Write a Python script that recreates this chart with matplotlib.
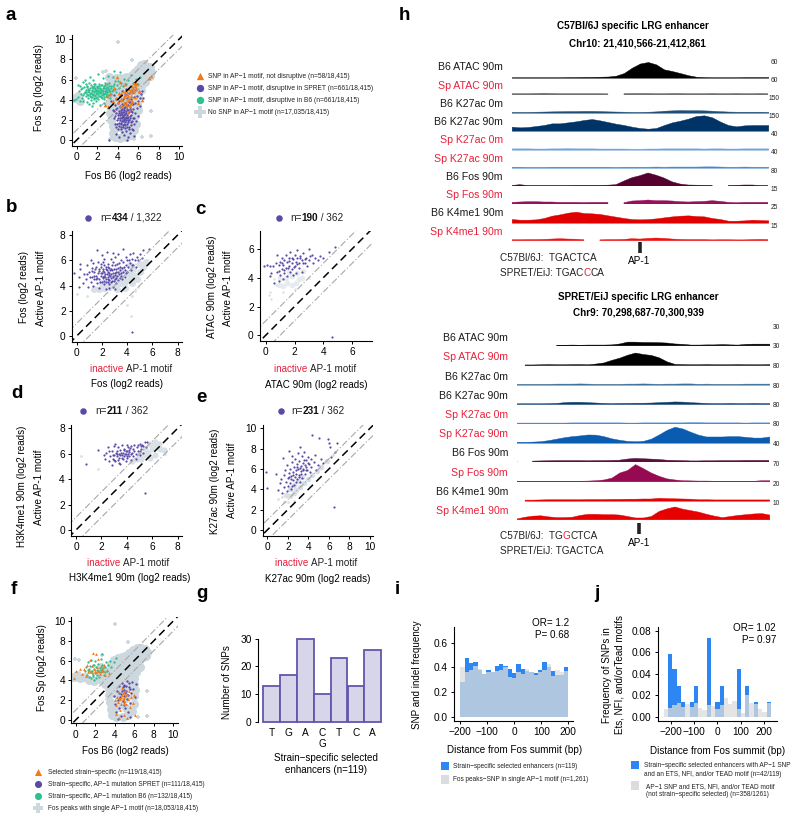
import numpy as np
import matplotlib
matplotlib.use("Agg")
import matplotlib.pyplot as plt

plt.rcParams['font.family'] = ['Liberation Sans', 'DejaVu Sans']

W, H = 800, 819
PURPLE = '#5a4aa8'
GREEN = '#2fc08f'
ORANGE = '#f07a1a'
GREY = '#cdd7de'
LGREY = '#d9e1e7'
RED = '#e8203a'
BLUE = '#2e86f2'
BARGREY = '#dcdcdc'

##### panel a points
a_grey = [(-0.2,4.2),(0.1,4.4),(0.3,3.9),(3.2,6.3),(3.6,5.9),(3.8,6.2),(4.2,6.2),
          (4.5,6.0),(4.8,6.3),(5.1,6.2),(5.4,6.5),(5.7,6.8),(6.0,7.1),(6.3,7.4),(6.6,7.5),(6.9,7.2),(7.2,7.2),
          (7.3,6.8),(7.2,6.4),(7.0,6.6),(6.6,6.2),(6.4,5.6),(6.1,6.0),(5.8,5.4),(5.4,5.0),(5.0,4.6),(4.6,4.2),
          (4.2,3.8),(3.8,3.5),(3.5,3.3),(3.2,3.7),(3.6,4.2),(4.0,4.7),(4.4,5.2),(4.8,5.5),(5.2,5.8),(5.6,6.1),
          (6.2,6.6),(6.8,7.0),(3.0,5.2),(3.3,5.6),(3.7,5.2),(6.7,5.8),(6.3,5.0),(6.0,4.4),(5.9,3.6),(6.0,3.0),
          (5.7,2.4),(5.8,1.6),(5.6,1.0),(5.3,0.5),(4.8,0.3),(4.2,0.2),(3.7,0.3),(3.5,0.7),(3.5,1.4),(3.4,2.0),
          (3.3,2.7),(3.7,2.9),(4.0,1.3),(4.6,0.9),(5.2,1.8),(5.6,3.2),(4.5,3.3),(5.0,3.8),(3.3,4.5),(4.2,5.6),
          (5.0,5.2),(5.8,5.9),(4.4,2.2),(5.0,1.2),(4.2,3.0),(5.4,4.0),(3.6,4.9),(4.6,4.8),(5.5,5.5),(6.4,6.1)]
a_grey_out = [(4.0,9.7),(5.4,7.9),(-0.1,6.2),(7.3,2.9),(7.3,0.4),(2.9,6.9),(2.6,6.8),(6.4,0.3),(3.3,0.1),(5.6,0.1)]
a_green = [(-0.3,4.0),(-0.1,4.1),(0.1,4.3),(0.2,4.9),(0.3,5.4),(0.1,5.5),(0.4,4.6),(0.4,5.1),(0.5,4.2),(0.6,3.9),
           (0.7,4.7),(0.7,5.3),(0.8,6.0),(0.9,4.4),(0.9,5.0),(1.0,3.8),(1.0,4.6),(1.0,5.4),(1.1,4.2),(1.1,5.1),
           (1.2,3.6),(1.2,4.8),(1.2,5.7),(1.3,4.4),(1.3,5.2),(1.4,4.0),(1.4,4.7),(1.4,5.5),(1.5,4.3),(1.5,5.0),
           (1.6,3.7),(1.6,4.6),(1.6,5.3),(1.6,6.0),(1.7,4.2),(1.7,4.9),(1.8,4.5),(1.8,5.1),(1.8,5.6),(1.9,3.9),
           (1.9,4.7),(2.0,4.3),(2.0,5.0),(2.0,5.4),(2.1,4.6),(2.1,4.1),(2.1,6.6),(2.2,4.9),(2.2,5.6),(2.3,3.5),
           (2.3,4.4),(2.3,5.2),(2.4,4.7),(2.4,5.0),(2.5,4.2),(2.5,5.5),(2.6,4.5),(2.6,4.9),(2.6,6.2),(2.7,5.2),
           (2.7,4.1),(2.8,4.7),(2.8,5.7),(2.9,5.0),(2.9,4.4),(3.0,5.3),(3.0,4.8),(3.1,4.5),(3.1,6.4),(3.2,5.1),
           (3.2,5.7),(3.3,4.9),(3.4,5.4),(3.4,4.6),(3.5,5.0),(3.6,5.6),(3.6,6.9),(3.7,5.1),(3.8,4.8),(3.9,5.5),
           (4.0,5.9),(4.1,5.2),(4.3,5.7),(4.5,5.4),(4.6,6.1),(4.8,5.6),(5.0,6.0),(5.3,6.5),(5.5,5.7),(5.8,6.1),
           (6.0,5.6),(0.3,3.9),(0.6,5.8),(1.3,6.3),(1.5,3.4),(2.7,3.7),(3.3,4.2),(3.5,6.3),(4.2,6.8),(6.2,6.3),
           (0.95,4.75),(1.05,5.25),(1.15,4.45),(1.25,5.0),(1.35,4.25),(1.45,4.85),(1.45,5.25),(1.55,4.5),(1.55,5.15),(1.65,4.05),
           (1.65,4.75),(1.65,5.55),(1.75,4.35),(1.75,5.2),(1.85,4.85),(1.85,4.15),(1.95,5.3),(1.95,4.55),(2.05,4.75),(2.05,5.15),
           (2.15,4.35),(2.15,5.35),(2.25,4.65),(2.25,5.05),(2.35,4.25),(2.35,5.45),(2.45,4.85),(2.45,4.45),(2.55,5.15),(2.55,4.65),
           (2.65,5.35),(2.65,4.25),(2.75,4.85),(2.75,5.45),(2.85,4.55),(2.85,5.15),(2.95,4.75),(2.95,5.55),(3.05,5.05),(3.15,4.85),
           (3.15,5.35),(3.25,4.55),(3.35,5.15),(3.45,4.85),(3.55,5.35),(1.1,4.9),(1.3,4.6),(1.5,4.6),(1.7,5.4),(1.9,5.0),
           (2.1,4.9),(2.3,4.8),(2.5,5.0),(2.7,4.6),(2.9,4.9),(0.6,4.5),(0.8,4.8),(0.5,5.2),(0.9,5.6),(3.7,5.9)]
a_purple = [(3.4,3.9),(3.5,3.0),(3.6,2.2),(3.7,3.5),(3.7,1.6),(3.8,2.7),(3.8,4.1),(3.8,0.6),(3.9,2.0),(3.9,3.2),
            (4.0,1.1),(4.0,2.5),(4.0,3.7),(4.1,1.7),(4.1,2.9),(4.1,0.3),(4.2,2.2),(4.2,3.4),(4.2,4.4),(4.3,1.3),
            (4.3,2.6),(4.3,3.0),(4.4,0.8),(4.4,1.9),(4.4,2.3),(4.4,3.6),(4.5,1.5),(4.5,2.8),(4.5,4.1),(4.6,0.5),
            (4.6,2.1),(4.6,3.2),(4.6,2.5),(4.7,1.2),(4.7,1.8),(4.7,3.7),(4.7,4.6),(4.8,2.3),(4.8,2.9),(4.8,0.9),
            (4.9,1.6),(4.9,3.4),(4.9,4.2),(5.0,0.3),(5.0,2.0),(5.0,2.7),(5.0,3.0),(5.1,1.3),(5.1,3.8),(5.1,4.7),
            (5.2,2.4),(5.2,3.3),(5.2,0.7),(5.3,1.8),(5.3,4.1),(5.3,2.9),(5.4,1.1),(5.4,3.6),(5.4,4.9),(5.5,2.2),
            (5.5,3.1),(5.6,0.4),(5.6,1.6),(5.6,4.3),(5.7,2.7),(5.7,3.7),(5.8,5.0),(5.8,1.9),(5.9,3.2),(5.9,4.4),
            (6.0,2.4),(6.0,3.9),(6.1,4.8),(6.2,3.4),(6.2,4.2),(6.3,4.6),(6.4,4.9),(6.5,4.2),(3.2,0.0),(4.9,0.0),
            (4.4,4.9),(4.8,5.1),(5.3,5.4),(5.7,5.6),(3.6,4.5),(4.1,3.9),(4.6,2.0),(4.3,1.6),(4.9,2.2),(4.5,2.4),
            (3.95,1.55),(4.05,2.15),(4.15,2.65),(4.15,1.35),(4.25,1.95),(4.25,2.45),(4.25,3.25),(4.35,1.05),(4.35,2.75),(4.35,1.65),
            (4.45,2.15),(4.45,2.55),(4.45,3.05),(4.55,1.85),(4.55,2.25),(4.55,1.25),(4.55,3.45),(4.65,2.75),(4.65,1.55),(4.65,2.95),
            (4.75,2.15),(4.75,2.55),(4.75,1.45),(4.75,3.25),(4.85,1.95),(4.85,2.65),(4.85,3.55),(4.95,1.25),(4.95,2.45),(4.95,3.05),
            (5.05,1.75),(5.05,2.25),(5.05,3.45),(5.15,2.75),(5.15,1.05),(5.15,1.95),(5.25,2.15),(5.25,3.05),(5.25,3.75),(5.35,2.45),
            (5.35,1.45),(5.45,2.75),(5.45,1.85),(5.55,3.55),(5.55,0.95),(5.65,2.15),(3.75,2.35),(3.85,3.05),(3.65,2.85),(3.85,1.25)]
a_orange = [(2.8,3.5),(3.0,4.4),(3.1,3.3),(3.3,4.6),(3.5,3.9),(3.6,5.2),(3.8,4.2),(3.9,6.3),(4.0,3.8),(4.1,4.7),
            (4.2,5.8),(4.3,4.1),(4.4,3.4),(4.5,4.9),(4.6,4.3),(4.7,5.6),(4.8,3.7),(4.9,4.6),(5.0,4.0),(5.0,2.8),
            (5.1,5.1),(5.2,3.4),(5.3,4.4),(5.4,5.4),(5.4,3.9),(5.5,4.8),(5.6,5.7),(5.7,4.3),(5.8,5.2),(5.9,5.6),
            (6.0,3.7),(6.1,4.9),(6.4,4.0),(7.1,6.2),(7.3,6.4),(4.4,4.0),(4.7,4.5),(5.0,4.4),(5.2,4.8),(5.5,5.2),
            (5.7,5.4),(4.9,3.5),(5.3,3.7),(4.6,3.7),(5.6,4.9),(5.1,4.2),(4.3,4.6),(4.8,4.9),(5.8,5.7),(5.3,5.0)]

##### panel b points
b_grey = [(1.4,3.7),(1.8,3.7),(2.2,3.8),(2.6,3.9),(3.0,4.0),(3.4,4.2),(3.8,4.3),(4.2,4.5),(4.6,4.8),(5.0,5.1),
          (5.3,5.5),(5.5,5.9),(3.0,4.5),(3.5,4.7),(4.0,5.0),(4.5,5.3),(5.0,5.7),(2.6,4.2),(3.2,3.7),(3.8,3.8),
          (4.4,4.2),(4.8,4.5),(3.6,5.2),(4.2,5.6),(2.0,4.2),(3.3,4.9),(4.3,4.9)]
b_grey_out = [(0.0,3.3),(0.8,3.2),(4.3,1.6),(4.0,2.5),(4.6,3.6),(4.9,3.9),(4.4,3.2)]
b_purple = [(-0.2,5.0),(0.2,3.9),(0.2,4.7),(0.3,5.3),(0.3,5.7),(0.5,4.2),(0.6,4.9),(0.7,4.5),(0.8,5.6),(0.9,3.9),
            (1.0,5.1),(1.1,4.3),(1.1,6.0),(1.2,4.7),(1.2,5.4),(1.3,4.0),(1.3,5.8),(1.4,4.5),(1.4,5.1),(1.5,4.8),
            (1.5,5.5),(1.6,4.2),(1.6,6.8),(1.7,5.0),(1.7,5.9),(1.8,3.8),(1.8,4.5),(1.8,5.3),(1.9,4.8),(1.9,5.7),
            (2.0,4.3),(2.0,5.0),(2.0,6.4),(2.1,4.6),(2.1,5.3),(2.1,5.9),(2.2,4.1),(2.2,4.8),(2.2,5.1),(2.3,4.5),
            (2.3,5.5),(2.3,3.7),(2.4,4.9),(2.4,5.2),(2.4,6.7),(2.5,4.3),(2.5,4.7),(2.5,5.7),(2.6,5.0),(2.6,4.1),
            (2.6,5.4),(2.7,4.6),(2.7,4.9),(2.7,6.1),(2.8,5.2),(2.8,4.4),(2.8,5.6),(2.9,4.8),(2.9,3.9),(2.9,5.9),
            (3.0,5.0),(3.0,4.5),(3.0,6.3),(3.1,5.3),(3.1,4.2),(3.2,4.8),(3.2,5.7),(3.3,5.1),(3.3,6.5),(3.4,4.6),
            (3.4,5.5),(3.5,5.0),(3.5,6.0),(3.6,4.5),(3.6,5.4),(3.7,5.9),(3.7,6.9),(3.8,5.2),(3.8,4.7),(3.9,5.6),
            (3.9,6.3),(4.0,5.1),(4.0,6.0),(4.1,5.5),(4.2,6.5),(4.2,5.8),(4.3,5.2),(4.4,6.1),(4.5,6.6),(4.5,5.6),
            (4.6,6.0),(4.7,5.5),(4.8,6.3),(4.9,6.0),(5.0,6.5),(5.2,6.2),(5.3,6.8),(5.7,6.9),(4.4,0.3),(1.9,5.0),
            (1.65,4.6),(1.75,5.15),(1.85,4.25),(1.95,5.45),(2.05,4.7),(2.05,5.15),(2.15,4.4),(2.15,5.6),(2.25,4.95),(2.25,4.65),
            (2.35,5.35),(2.35,4.25),(2.45,4.55),(2.45,5.05),(2.45,5.45),(2.55,4.85),(2.55,4.45),(2.65,5.2),(2.65,4.75),(2.75,5.35),
            (2.75,4.25),(2.85,5.0),(2.85,4.65),(2.95,5.35),(2.95,4.35),(3.05,4.85),(3.05,5.6),(3.15,5.1),(3.15,4.6),(3.25,5.4),
            (3.25,4.45),(3.35,5.8),(3.35,4.9),(3.45,5.2),(3.55,4.75),(3.65,5.1),(1.35,4.75),(1.45,5.35),(1.55,4.55),(1.25,5.15),
            (1.05,4.65),(0.85,4.9),(2.6,3.8),(3.0,3.7),(3.75,5.45),(3.95,5.0),(4.15,6.0),(4.35,5.6),(2.2,6.1),(2.9,6.6)]

##### panel c points
c_grey = [(0.9,3.5),(1.2,3.4),(1.5,3.6),(1.8,3.5),(2.1,3.6),(2.3,3.9),(1.0,4.0),(1.4,4.0),(1.8,4.1),(2.2,4.3),
          (2.6,4.5),(1.6,4.4),(2.5,4.0)]
c_grey_out = [(0.3,3.0),(0.2,2.8),(0.6,3.9),(0.7,3.5),(0.4,2.5),(3.0,4.0),(1.2,3.0),(2.0,3.2)]
c_purple = [(-0.1,4.8),(0.1,4.9),(0.3,4.8),(0.3,4.1),(0.4,4.3),(0.5,4.8),(0.6,3.6),(0.7,5.0),(0.8,4.4),(0.8,5.6),
            (0.9,3.8),(0.9,4.9),(1.0,4.2),(1.0,5.1),(1.1,5.4),(1.1,4.6),(1.2,3.9),(1.2,4.9),(1.3,5.2),(1.3,4.3),
            (1.4,4.7),(1.4,5.6),(1.5,5.1),(1.5,4.1),(1.6,4.8),(1.6,5.4),(1.7,4.4),(1.7,5.8),(1.8,5.0),(1.8,4.6),
            (1.9,5.3),(1.9,4.2),(2.0,5.6),(2.0,4.8),(2.1,5.1),(2.1,4.3),(2.2,5.9),(2.2,5.4),(2.3,4.7),(2.3,5.0),
            (2.4,5.5),(2.5,5.2),(2.5,4.4),(2.6,5.7),(2.7,5.0),(2.8,5.4),(2.9,4.8),(3.0,6.0),(3.0,5.2),(3.1,5.5),
            (3.3,5.0),(3.4,5.4),(3.6,5.2),(3.8,5.5),(4.0,5.4),(4.4,5.8),(4.8,6.1),(4.6,-0.1),(1.15,5.0),(1.25,4.55),
            (1.55,4.65),(1.65,5.15),(1.85,5.35),(1.95,4.75),(2.15,4.95),(2.35,5.35),(2.6,5.0),(2.75,5.3),(3.2,5.6),(0.95,4.45)]

##### panel d points
d_grey = [(4.4,5.4),(4.8,5.6),(5.1,5.6),(5.4,5.9),(5.7,6.1),(6.0,6.4),(6.3,6.6),(6.6,6.4),(6.9,6.3),
          (5.0,6.0),(5.4,6.4),(5.8,6.8),(6.2,6.9),(6.5,6.8),(5.8,5.7),(6.2,5.9)]
d_grey_out = [(0.4,5.8),(1.7,4.8),(7.0,6.0)]
d_purple = [(1.7,6.3),(0.8,5.2),(2.2,5.9),(2.3,5.6),(2.4,6.1),(2.5,6.5),(2.6,5.4),(2.7,5.8),(2.8,6.2),(2.8,5.1),
            (2.9,5.6),(3.0,6.6),(3.0,5.9),(3.1,5.4),(3.2,6.2),(3.2,5.8),(3.3,6.5),(3.3,5.5),(3.4,6.0),(3.4,5.7),
            (3.5,6.3),(3.5,5.2),(3.6,5.9),(3.6,6.7),(3.7,5.6),(3.7,6.1),(3.8,6.4),(3.8,5.8),(3.9,6.0),(3.9,5.4),
            (4.0,6.7),(4.0,6.2),(4.0,5.7),(4.1,6.0),(4.1,6.5),(4.2,5.8),(4.2,6.3),(4.3,5.5),(4.3,6.6),(4.4,6.1),
            (4.5,5.8),(4.5,6.4),(4.6,6.7),(4.7,6.0),(4.7,5.6),(4.8,6.5),(4.9,6.2),(5.0,6.8),(5.0,5.9),(5.1,6.4),
            (5.2,6.7),(5.3,6.1),(5.4,6.9),(5.5,6.5),(5.6,6.9),(5.4,2.9),(3.1,6.8),(2.6,6.2),(3.25,6.0),(3.45,5.9),
            (3.55,6.1),(3.65,5.7),(3.75,6.3),(3.85,5.95),(3.95,6.2),(4.05,5.85),(4.15,6.15),(4.25,6.45),(4.35,5.95),(4.6,6.2),
            (4.85,6.7),(5.0,6.2),(5.1,6.6),(5.3,6.6),(2.9,5.9),(3.0,5.5),(3.35,5.3),(3.15,6.1)]

##### panel e points
e_grey = [(1.8,3.4),(2.2,3.3),(2.6,3.6),(2.8,3.9),(3.2,4.2),(3.6,4.6),(4.0,5.0),(4.4,5.4),
          (2.2,4.0),(2.6,4.4),(3.0,4.8),(3.4,5.2),(4.8,5.8),(5.2,6.2),(5.8,6.8)]
e_grey_out = [(1.0,3.0),(1.4,3.2),(1.6,2.8),(6.4,7.4),(2.0,2.8),(2.6,2.9)]
e_purple = [(-0.1,5.7),(0.0,4.1),(0.8,5.5),(1.0,3.9),(1.2,4.6),(1.3,5.0),(1.4,3.6),(1.5,7.1),(1.6,5.4),(1.6,4.2),
            (1.7,5.9),(1.8,4.7),(1.9,3.8),(1.9,6.4),(2.0,5.1),(2.0,4.3),(2.1,7.8),(2.1,5.6),(2.2,4.6),(2.2,6.0),
            (2.3,5.3),(2.3,4.0),(2.4,6.7),(2.4,7.3),(2.5,4.9),(2.5,5.7),(2.6,4.4),(2.6,6.2),(2.7,5.2),(2.7,7.0),
            (2.8,5.5),(2.8,4.7),(2.9,6.5),(2.9,5.0),(3.0,6.0),(3.0,7.6),(3.1,5.4),(3.1,6.8),(3.2,4.7),(3.2,8.2),
            (3.3,5.8),(3.3,6.3),(3.4,7.3),(3.4,5.1),(3.5,6.6),(3.5,5.9),(3.6,6.9),(3.6,7.7),(3.7,5.5),(3.8,6.2),
            (3.8,6.9),(3.9,5.9),(4.0,7.2),(4.1,6.5),(4.2,5.7),(4.3,7.0),(4.3,6.2),(4.4,9.3),(4.5,6.7),(4.6,7.4),
            (4.7,5.9),(4.9,6.4),(5.0,9.0),(5.2,7.0),(5.4,6.6),(5.9,8.9),(6.0,8.6),(6.1,8.2),(6.2,7.2),(6.6,7.7),
            (6.8,8.6),(6.5,2.3),(2.35,5.0),(2.55,5.4),(2.75,5.9),(2.85,6.2),(3.05,5.2),(3.15,6.1),(3.25,5.5),(3.45,6.0),
            (3.65,6.4),(3.75,5.9),(3.95,6.6),(2.45,4.3),(2.15,5.2)]

##### panel f points
f_grey = [(-0.2,4.3),(0.1,4.5),(0.4,4.2),(0.9,4.3),(1.4,4.0),(1.9,3.9),(2.4,4.1),
          (2.5,4.6),(3.0,4.4),(3.4,4.4),(3.0,5.0),(3.5,5.0),(3.6,5.7),(3.9,6.1),(4.3,6.3),(4.7,6.4),(5.1,6.5),(5.5,6.8),
          (5.9,7.1),(6.3,7.3),(6.7,7.3),(7.1,7.2),(7.3,6.9),(7.2,6.5),(6.9,6.4),(6.5,6.0),(6.1,5.5),(5.7,5.0),
          (5.3,4.6),(4.9,4.2),(4.5,3.8),(4.1,3.4),(3.7,3.1),(3.4,3.1),(3.6,3.5),(4.0,4.0),(4.4,4.5),(4.8,5.0),
          (5.2,5.5),(5.6,6.0),(6.0,6.4),(6.4,6.8),(6.8,7.0),(4.0,5.0),(4.5,5.6),(5.0,6.0),(6.6,5.4),(6.2,4.8),
          (6.0,4.2),(6.0,3.6),(6.1,3.0),(6.0,2.4),(6.0,1.6),(5.8,0.9),(5.4,0.5),(4.8,0.3),(4.1,0.3),(3.7,0.5),
          (3.6,1.1),(3.5,1.8),(3.4,2.5),(4.0,1.2),(4.6,1.6),(5.2,1.2),(4.2,2.6),(5.0,3.0),(5.6,3.4),(4.6,3.4),
          (5.4,4.0),(4.5,4.8),(5.6,5.4),(3.5,4.0),(4.4,2.0),(5.2,2.2),(3.0,3.6),(2.6,5.4)]
f_grey_out = [(4.0,9.7),(5.4,7.9),(-0.1,6.2),(7.3,2.9),(7.3,0.4),(0.3,6.1),(2.7,6.6),(6.4,0.3)]
f_purple = [(3.9,2.4),(4.0,1.6),(4.1,0.8),(4.2,2.9),(4.3,2.0),(4.4,3.4),(4.4,1.2),(4.6,2.6),(4.6,0.4),(4.7,3.7),
            (4.8,1.9),(4.9,3.0),(5.0,2.4),(5.0,3.5),(5.1,1.2),(5.2,2.9),(5.3,3.9),(5.3,2.1),(5.4,0.8),(5.5,3.3),
            (5.6,1.7),(5.7,2.7),(5.8,3.8),(5.9,3.1),(6.1,2.3),(6.2,3.6),(4.3,0.1),(5.6,0.3),(4.9,1.5),(4.5,2.3),
            (4.7,2.9),(4.9,3.4),(5.1,2.7),(5.2,3.4),(5.4,2.5),(5.6,3.1),(5.0,1.8),(4.8,3.3),(5.5,3.7),(4.4,2.7)]
f_green = [(1.0,4.9),(1.1,5.4),(1.2,4.5),(1.3,5.9),(1.3,5.1),(1.4,4.3),(1.5,5.5),(1.5,4.8),(1.6,6.1),(1.7,5.0),
           (1.8,4.4),(1.8,5.6),(1.9,5.2),(2.0,4.7),(2.0,6.0),(2.1,5.4),(2.2,4.5),(2.3,5.7),(2.3,5.0),(2.4,4.3),
           (2.5,5.3),(2.6,4.8),(2.6,6.2),(2.7,5.6),(2.8,5.0),(2.9,4.5),(3.0,5.4),(3.1,5.9),(3.2,5.0),(3.3,5.6),
           (3.5,6.0),(3.6,5.4),(3.9,5.9),(4.1,6.3),(1.9,4.0),(2.7,6.7),(1.4,5.2),(1.7,4.7),(1.9,5.6),(2.2,5.1),
           (2.4,4.8),(2.6,5.1),(2.8,5.3),(1.6,4.2),(2.1,4.2),(3.0,4.8)]
f_orange = [(-0.2,4.2),(0.0,5.0),(0.4,5.2),(0.6,4.6),(0.9,5.2),(1.1,4.4),(1.2,5.6),(1.4,5.1),(1.5,6.1),(1.7,5.5),
            (1.8,4.6),(1.8,6.8),(1.9,5.2),(2.1,6.7),(2.1,4.8),(2.2,5.4),(2.3,6.2),(2.4,5.0),(2.5,4.6),(2.6,5.5),
            (2.8,4.9),(2.9,5.6),(3.0,4.5),(3.2,5.1),(3.4,4.7),(1.6,5.0),(2.0,5.0),(2.3,4.9),(2.7,5.2),(1.3,4.8),
            (4.0,2.0),(4.1,1.5),(4.1,0.6),(4.2,2.3),(4.3,1.8),(4.4,2.8),(4.4,0.2),(4.5,2.1),(4.5,1.0),(4.6,1.6),
            (4.7,2.5),(4.7,3.2),(4.8,2.1),(4.9,2.8),(4.9,0.5),(5.0,1.9),(5.1,2.4),(5.1,3.0),(5.2,1.6),(5.3,2.6),
            (5.4,2.1),(5.5,2.9),(5.6,1.3),(5.7,2.3),(5.9,1.7),(6.1,0.5),(6.0,2.5),(5.3,0.2),(4.6,2.3),(4.8,2.7),
            (5.0,2.2),(5.2,2.5),(4.4,2.2),(4.9,1.6)]

##### bars
g_bases = ['T', 'G', 'A', 'C', 'T', 'C', 'A']
g_snps = [13, 17, 30, 10, 23, 13, 26]

i_selected = [.285,.48,.435,.44,.38,.345,.38,.36,.415,.425,.41,.385,.355,.425,.39,.37,.365,.355,.38,.44,.40,.37,.34,.34,.40]
i_peaks = [.40,.365,.375,.41,.385,.35,.36,.36,.37,.375,.40,.32,.31,.365,.35,.385,.36,.34,.36,.38,.43,.33,.38,.36,.37]
i_centres = [-192,-176,-160,-144,-128,-112,-96,-80,-64,-48,-32,-16,0,16,32,48,64,80,96,112,128,144,160,176,192]
j_selected = [0,.058,.044,.029,.014,0,.014,.029,0,0,.073,0,.014,.029,0,0,0,.044,0,.029,0,.014,0,0,.014]
j_peaks = [.007,.008,.0105,.0125,.009,.0115,.009,.013,.0085,.0065,.0105,.0095,.007,.0105,.017,.012,.015,.0075,.003,.02,.013,.0115,.007,.0045,.0125]
j_centres = [-220.8,-202.4,-184,-165.6,-147.2,-128.8,-110.4,-92,-73.6,-55.2,-36.8,-18.4,0,18.4,36.8,55.2,73.6,92,110.4,128.8,147.2,165.6,184,202.4,220.8]

##### genome tracks, percent of track height, nan = no coverage
n = np.nan
top_names = ['B6 ATAC 90m','Sp ATAC 90m','B6 K27ac 0m','B6 K27ac 90m','Sp K27ac 0m','Sp K27ac 90m','B6 Fos 90m','Sp Fos 90m','B6 K4me1 90m','Sp K4me1 90m']
top_scales = ['60','60','150','150','40','40','80','15','25','15']
top_colors = ['#000000','#555555','#1f4e79','#003366','#6fa3dc','#4a86c8','#560030','#96105e','#e00000','#ee1010']
top_tracks = [
    [3,3,3,3,3,3,3,4,4,5,5,6,7,12,28,60,85,94,80,50,40,28,15,6,4,3,3,3,3,4,4,4,4],
    [6,6,6,7,8,7,6,6,6,6,6,6,5,n,6,7,7,7,6,6,7,7,6,6,6,7,6,6,7,6,6,7,6],
    [5,5,5,6,7,8,9,10,10,11,11,10,8,7,6,5,5,6,8,12,14,16,15,15,14,12,9,7,6,6,6,6,5],
    [24,20,22,28,34,44,44,50,56,64,70,62,52,42,34,24,16,12,16,34,50,60,72,88,92,80,55,34,26,32,34,34,34],
    [8,8,8,7,7,8,8,9,8,8,8,7,7,7,7,6,6,7,7,8,8,8,8,8,7,8,8,7,7,8,8,8,8],
    [6,6,5,5,5,6,6,6,6,6,6,6,6,5,6,6,6,6,7,6,7,7,7,7,8,8,7,6,6,7,6,6,6],
    [3,8,3,3,3,3,3,3,4,4,4,4,5,8,30,50,62,78,65,48,25,12,6,5,4,4,n,3,4,6,6,3,3],
    [10,12,14,14,12,12,10,10,10,9,10,10,10,n,8,18,20,24,20,20,18,14,12,14,16,20,16,10,8,10,10,10,10],
    [22,18,18,20,28,42,50,60,66,58,56,52,44,36,28,22,20,22,26,32,38,42,44,40,38,28,22,12,12,14,18,16,14],
    [6,6,7,7,8,10,12,10,9,6,n,5,7,7,8,12,10,14,16,14,10,8,7,7,7,5,6,6,5,5,7,8,7],
]
bot_names = top_names
bot_scales = ['30','30','80','80','80','80','40','70','20','10']
bot_colors = ['#000000','#000000','#3d6f98','#0b3a68','#3a7fd0','#0a5cb0','#5a0f42','#960a52','#e80000','#e60000']
bot_tracks = [
    [n,n,n,n,n,3,3,4,3,4,4,4,5,10,20,20,18,18,17,15,10,8,4,4,5,5,7,5,4,8,9,9,9],
    [n,3,3,4,5,4,4,5,5,4,8,14,28,40,56,68,60,55,42,20,6,5,4,4,5,4,4,4,5,4,4,4,5],
    [5,5,5,5,5,6,6,6,7,6,5,5,5,5,6,6,7,6,5,6,6,7,7,5,6,5,5,5,5,6,6,6,6],
    [4,4,4,4,5,6,10,12,12,10,8,6,5,6,6,7,7,8,10,12,14,13,10,8,6,5,5,6,5,5,6,5,5],
    [4,4,4,4,4,4,4,5,5,5,5,5,5,5,4,4,5,5,5,5,5,5,6,6,5,5,5,5,5,4,5,5,5],
    [5,5,6,8,14,22,30,36,40,45,44,36,24,16,10,8,10,22,45,70,87,78,60,44,34,34,34,36,36,32,28,28,34],
    [5,n,5,6,7,8,8,8,8,7,8,8,9,10,16,20,18,16,14,10,9,8,6,6,7,7,8,8,8,9,9,9,9],
    [3,3,3,3,3,3,3,3,3,4,6,10,20,48,62,94,72,48,30,16,10,6,5,4,4,3,3,3,3,3,3,6,6],
    [n,6,6,7,8,8,8,8,8,9,9,9,10,10,11,11,12,12,16,14,13,12,11,8,8,7,7,7,7,7,7,7,7],
    [5,14,20,22,16,12,12,14,24,30,30,28,28,26,18,10,10,18,46,60,70,58,50,42,30,20,12,18,24,28,32,34,26],
]

fig = plt.figure(figsize=(W / 100, H / 100), dpi=100)
overlay = fig.add_axes([0, 0, 1, 1], zorder=5)
overlay.set_xlim(0, W)
overlay.set_ylim(H, 0)
overlay.axis('off')
overlay.patch.set_alpha(0)
renderer = fig.canvas.get_renderer()


def T(x, y, s, size=7.1, ha='center', va='center', **kw):
    return overlay.text(x, y, s, fontsize=size, ha=ha, va=va, **kw)


def pieces(x, y, parts, size=7.1):
    # parts = (text, colour, weight), drawn one after another
    for s, col, wt in parts:
        t = T(x, y, s, size=size, ha='left', color=col, weight=wt)
        x += t.get_window_extent(renderer).width


def make_ax(left, right, top, bottom, x0, sx, y0, sy):
    ax = fig.add_axes([left / W, 1 - bottom / H, (right - left) / W, (bottom - top) / H])
    ax.set_xlim((left - x0) / sx, (right - x0) / sx)
    ax.set_ylim((y0 - bottom) / sy, (y0 - top) / sy)
    ax.spines['top'].set_visible(False)
    ax.spines['right'].set_visible(False)
    ax.patch.set_alpha(0)
    ax.tick_params(labelsize=7.3, length=2.5, width=0.7, pad=2)
    return ax


def scatter_panel(ax, layers, ticks):
    ax.set_xticks(ticks)
    ax.set_yticks(ticks)
    for pts, col, marker, size in layers:
        arr = np.array(pts)
        ax.scatter(arr[:, 0], arr[:, 1], c=col, marker=marker, s=size, linewidths=0)
    ax.plot([-2, 12], [-2, 12], color='black', lw=1.1, ls=(0, (5, 3)))
    for off in (1, -1):
        ax.plot([-2, 12], [-2 + off, 12 + off], color='#a8a8a8', lw=0.8, ls=(0, (6, 2, 1, 2)))


def draw_tracks(names, scales, colors, tracks, x0, x1, bases, height, label_x, label_ys, scale_x, scale_ys):
    for k, vals in enumerate(tracks):
        ax = fig.add_axes([x0 / W, 1 - bases[k] / H, (x1 - x0) / W, height / H])
        xs = np.linspace(0, 1, len(vals))
        ax.fill_between(xs, 0, vals, color=colors[k], lw=0.3)
        ax.set_xlim(0, 1)
        ax.set_ylim(0, 100)
        ax.axis('off')
        col = RED if names[k].startswith('Sp') else '#1a1a1a'
        T(label_x, label_ys[k], names[k], size=7.6, ha='right', color=col)
        T(scale_x, scale_ys[k], scales[k], size=4.8, color='#222222')


for lab, x, y in [('a', 11, 15), ('h', 404, 15), ('b', 12, 207), ('c', 200, 209), ('d', 17, 393),
                  ('e', 201, 398), ('f', 14, 590), ('g', 202, 594), ('i', 397, 590), ('j', 597, 594)]:
    T(x, y, lab, size=13.5, weight='bold')

##### a
ax = make_ax(72, 182, 35, 146, 76.7, 10.23, 140, 10.07)
scatter_panel(ax, [(a_grey, GREY, 'o', 42), (a_grey_out, GREY, 'P', 12), (a_green, GREEN, 'o', 2.8), (a_purple, PURPLE, 'o', 2.8),
                   (a_orange, ORANGE, '^', 7)], [0, 2, 4, 6, 8, 10])
T(128, 176, 'Fos B6 (log2 reads)')
T(39, 88, 'Fos Sp (log2 reads)', rotation=90)
a_legend = ['SNP in AP\u22121 motif, not disruptive (n=58/18,415)', 'SNP in AP\u22121 motif, disruptive in SPRET (n=661/18,415)',
            'SNP in AP\u22121 motif, disruptive in B6 (n=661/18,415)', 'No SNP in AP\u22121 motif (n=17,035/18,415)']
for s, y, col, mk, ms in zip(a_legend, [76, 88, 100, 112], [ORANGE, PURPLE, GREEN, GREY], ['^', 'o', 'o', 'P'], [28, 28, 28, 70]):
    overlay.scatter([199.5], [y], c=col, marker=mk, s=ms, linewidths=0)
    T(208, y, s, size=4.8, ha='left', color='#222222')


def header(dot_x, text_x, y, bold, rest):
    overlay.scatter([dot_x], [y], c=PURPLE, s=22, linewidths=0)
    pieces(text_x, y, [('n=', '#222222', 'normal'), (bold, '#111111', 'bold'), (rest, '#222222', 'normal')], size=7.2)


def motif_label(x, y):
    pieces(x, y, [('inactive ', RED, 'normal'), ('AP-1 motif', '#222222', 'normal')], size=7.1)


##### b
ax = make_ax(72, 182, 231, 341.7, 76.7, 12.6, 336, 12.6)
scatter_panel(ax, [(b_grey, LGREY, 'o', 26), (b_grey_out, LGREY, 'o', 4), (b_purple, PURPLE, 'o', 2.5)], [0, 2, 4, 6, 8])
header(88, 100, 218, '434', ' / 1,322')
motif_label(90, 369)
T(126.7, 384, 'Fos (log2 reads)')
T(24, 286.7, 'Fos (log2 reads)', rotation=90)
T(40.7, 288, 'Active AP-1 motif', rotation=90)

##### c
ax = make_ax(260, 372, 231, 341, 265.7, 14.4, 335.3, 14.4)
scatter_panel(ax, [(c_grey, '#e6ebef', 'o', 16), (c_grey_out, LGREY, 'o', 3), (c_purple, PURPLE, 'o', 2.5)], [0, 2, 4, 6])
header(279, 290, 218, '190', ' / 362')
motif_label(274, 369)
T(316.7, 384.5, 'ATAC 90m (log2 reads)')
T(211.7, 286.7, 'ATAC 90m (log2 reads)', rotation=90)
T(228, 288, 'Active AP-1 motif', rotation=90)

##### d
ax = make_ax(71, 182, 425, 535.7, 76, 12.7, 530, 12.7)
scatter_panel(ax, [(d_grey, LGREY, 'o', 20), (d_grey_out, LGREY, 'o', 4), (d_purple, PURPLE, 'o', 2.5)], [0, 2, 4, 6, 8])
header(83, 95, 411, '211', ' / 362')
motif_label(86.7, 563)
T(130, 577.7, 'H3K4me1 90m (log2 reads)')
T(21.7, 486.7, 'H3K4me1 90m (log2 reads)', rotation=90)
T(39, 487, 'Active AP-1 motif', rotation=90)

##### e
ax = make_ax(262.7, 373, 425, 535.7, 267.3, 10.27, 530, 10.17)
scatter_panel(ax, [(e_grey, LGREY, 'o', 16), (e_grey_out, LGREY, 'o', 4), (e_purple, PURPLE, 'o', 2.5)], [0, 2, 4, 6, 8, 10])
header(281, 291, 411, '231', ' / 362')
motif_label(275, 563)
T(317.7, 579, 'K27ac 90m (log2 reads)')
T(215, 481.7, 'K27ac 90m (log2 reads)', rotation=90)
T(232, 480, 'Active AP-1 motif', rotation=90)

##### f
ax = make_ax(71.3, 178, 616.7, 723.3, 75.7, 9.76, 720, 9.9)
scatter_panel(ax, [(f_grey, GREY, 'o', 42), (f_grey_out, GREY, 'P', 12), (f_purple, PURPLE, 'o', 2.8), (f_green, GREEN, 'o', 2.8),
                   (f_orange, ORANGE, '^', 4)], [0, 2, 4, 6, 8, 10])
T(125, 750.7, 'Fos B6 (log2 reads)')
T(42, 668, 'Fos Sp (log2 reads)', rotation=90)
f_legend = ['Selected strain\u2212specific (n=119/18,415)', 'Strain\u2212specific, AP\u22121 mutation SPRET (n=111/18,415)',
            'Strain\u2212specific, AP\u22121 mutation B6 (n=132/18,415)', 'Fos peaks with single AP\u22121 motif (n=18,053/18,415)']
for s, y, col, mk, ms in zip(f_legend, [772, 784, 796, 808], [ORANGE, PURPLE, GREEN, GREY], ['^', 'o', 'o', 'P'], [26, 26, 26, 60]):
    overlay.scatter([38.3], [y], c=col, marker=mk, s=ms, linewidths=0)
    T(47.5, y, s, size=4.7, ha='left', color='#222222')

##### g
ax = make_ax(258, 383, 636, 724, 263 + 8.45, 16.9, 722, 2.78)
ax.bar(range(7), g_snps, width=1, color='#d6d5ea', edgecolor='#6355ad', linewidth=1.3)
ax.spines['bottom'].set_visible(False)
ax.set_yticks([0, 10, 20, 30])
ax.set_xticks(range(7))
ax.set_xticklabels(g_bases)
ax.tick_params(axis='x', length=0, pad=3)
ax.spines['left'].set_bounds(0, 30)
T(322.3, 744, 'G')
T(226.7, 681.7, 'Number of SNPs', rotation=90)
T(326, 757.7, 'Strain\u2212specific selected')
T(326, 770, 'enhancers (n=119)')

##### i
ax = make_ax(454, 573, 626.7, 720.7, 514.3, 0.27, 716.7, 123.3)
ax.bar(i_centres, i_selected, width=16, color=BLUE, linewidth=0)
ax.bar(i_centres, i_peaks, width=16, color=BARGREY, alpha=0.75, linewidth=0)
ax.set_xticks([-200, -100, 0, 100, 200])
ax.set_yticks([0, 0.2, 0.4, 0.6])
ax.set_yticklabels(['0.0', '0.2', '0.4', '0.6'])
T(417, 675, 'SNP and indel frequency', rotation=90)
T(515, 750, 'Distance from Fos summit (bp)')
T(569, 623, 'OR= 1.2', ha='right')
T(569, 635, 'P= 0.68', ha='right')
overlay.scatter([445, 445], [766, 779.3], c=[BLUE, BARGREY], marker='s', s=40, linewidths=0)
T(453.3, 767, 'Strain\u2212specific selected enhancers (n=119)', size=4.7, ha='left', color='#222222')
T(453.3, 779.7, 'Fos peaks\u2212SNP in single AP\u22121 motif (n=1,261)', size=4.7, ha='left', color='#222222')

##### j
ax = make_ax(658, 776.7, 626.7, 720.7, 717.4, 0.2326, 716.7, 1075)
ax.bar(j_centres, j_selected, width=18.4, color=BLUE, linewidth=0)
ax.bar(j_centres, j_peaks, width=18.4, color=BARGREY, alpha=0.75, linewidth=0)
ax.set_xticks([-200, -100, 0, 100, 200])
ax.set_yticks([0, 0.02, 0.04, 0.06, 0.08])
ax.set_yticklabels(['0.00', '0.02', '0.04', '0.06', '0.08'])
T(607, 675, 'Frequency of SNPs in', rotation=90)
T(620, 675, 'Ets, NFI, and/orTead motifs', rotation=90)
T(718, 750.7, 'Distance from Fos summit (bp)')
T(776, 627.7, 'OR= 1.02', ha='right')
T(776, 640, 'P= 0.97', ha='right')
overlay.scatter([635, 635], [765, 785.7], c=[BLUE, BARGREY], marker='s', s=40, linewidths=0)
T(644, 765.7, 'Strain\u2212specific selected enhancers with AP\u22121 SNP', size=4.7, ha='left', color='#222222')
T(644, 774, 'and an ETS, NFI, and/or TEAD motif (n=42/119)', size=4.7, ha='left', color='#222222')
T(645.7, 786.7, 'AP\u22121 SNP and ETS, NFI, and/or TEAD motif', size=4.7, ha='left', color='#222222')
T(645.7, 795, '(not strain\u2212specific selected) (n=358/1261)', size=4.7, ha='left', color='#222222')

##### h
T(633, 26, 'C57Bl/6J specific LRG enhancer', size=7.1, weight='bold')
T(637, 43, 'Chr10: 21,410,566-21,412,861', size=7.1, weight='bold')
draw_tracks(top_names, top_scales, top_colors, top_tracks, 511.7, 768.3,
            [77.7, 94.7, 112.7, 130.7, 149.7, 167.7, 186, 204, 222.7, 240.7], 16.7,
            503, [67.3, 85.7, 104, 122.3, 140.3, 158.7, 177, 195, 213.3, 231.7],
            774.5, [62.3, 80.3, 98.7, 117, 135, 153, 171.3, 189.7, 207.7, 226])
pieces(500, 258, [('C57Bl/6J:  TGACTCA', '#222222', 'normal')], size=7.2)
pieces(500, 272.7, [('SPRET/EiJ: TGAC', '#222222', 'normal'), ('C', RED, 'normal'), ('CA', '#222222', 'normal')], size=7.2)
overlay.plot([640, 640], [242, 253], color='#222222', lw=2.6, solid_capstyle='butt')
T(639, 261, 'AP-1', size=7.2)

T(638.7, 297.3, 'SPRET/EiJ specific LRG enhancer', size=7.1, weight='bold')
T(638, 312.7, 'Chr9: 70,298,687-70,300,939', size=7.1, weight='bold')
draw_tracks(bot_names, bot_scales, bot_colors, bot_tracks, 516.7, 769.3,
            [345.3, 365, 384.7, 404, 423.3, 442.7, 462, 481.3, 500.7, 519.3], 18.3,
            508, [338.3, 357.3, 376.7, 395.7, 415, 434, 453.3, 472.7, 492, 511],
            776.5, [327.3, 347, 366.3, 386, 405.3, 425, 444.7, 464.3, 484, 503.3])
pieces(500, 536, [('C57Bl/6J:  TG', '#222222', 'normal'), ('G', RED, 'normal'), ('CTCA', '#222222', 'normal')], size=7.2)
pieces(500, 551, [('SPRET/EiJ: TGACTCA', '#222222', 'normal')], size=7.2)
overlay.plot([639, 639], [523, 534], color='#222222', lw=2.6, solid_capstyle='butt')
T(639, 543, 'AP-1', size=7.2)

fig.savefig('out.png', dpi=100)
